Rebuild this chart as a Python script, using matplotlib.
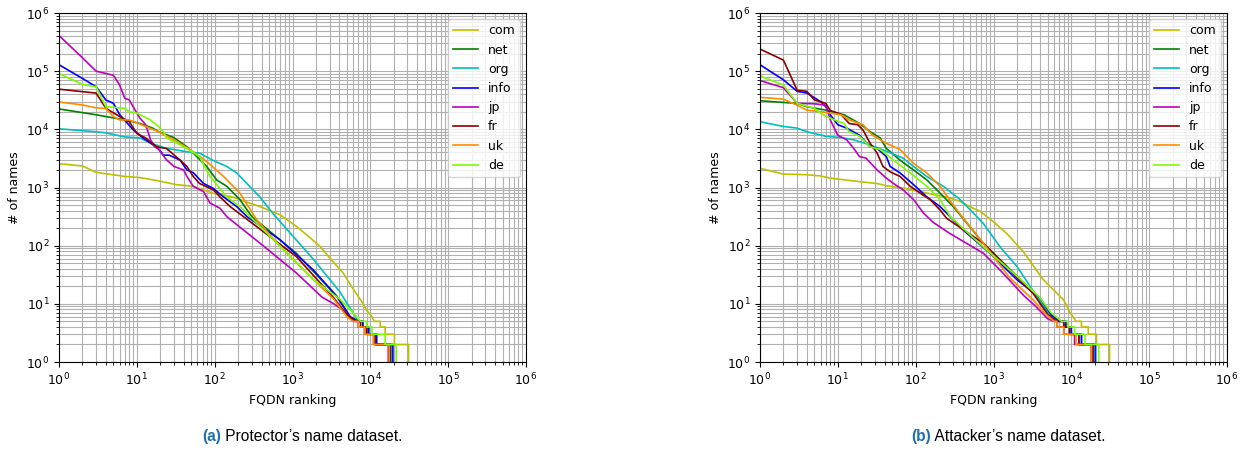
import matplotlib
matplotlib.use("Agg")
import matplotlib.pyplot as plt

tlds = ["com", "net", "org", "info", "jp", "fr", "uk", "de"]
colors = ["#bfbf00", "#008000", "#00bfbf", "#0000ff", "#bf00bf", "#8b0000", "#ff8c00", "#7cfc00"]

# counts where the tail goes down by one name at a time
tail_counts = [5, 4, 3, 2, 1]

# ---- (a) protector's name dataset: rank, # of names, tail step ranks
prot_com_r = [1, 2, 3, 7, 11, 18, 32, 53, 72, 94, 168, 260, 380, 692, 1120, 1600, 2240, 3200, 4470, 6000, 7400, 9000, 10500]
prot_com_n = [2570, 2340, 1820, 1550, 1480, 1320, 1120, 1050, 910, 800, 690, 560, 470, 340, 215, 145, 98, 56, 34, 18, 12, 7.7, 6]
prot_com_tail = [11200, 13400, 15500, 20400, 31000]

prot_net_r = [1, 3, 4, 7, 11, 16, 19, 30, 44, 59, 79, 106, 143, 211, 300, 1120, 3700, 5500]
prot_net_n = [2.24e4, 1.78e4, 1.66e4, 1.45e4, 1.26e4, 1.05e4, 9.1e3, 7.2e3, 5.0e3, 3.4e3, 2.3e3, 1.35e3, 1.05e3, 620, 316, 74, 13.5, 6]
prot_net_tail = [7000, 8000, 9500, 12000, 18500]

prot_org_r = [1, 3, 4, 7, 11, 15, 24, 33, 44, 64, 94, 143, 192, 260, 380, 567, 933, 1860, 4070, 6000]
prot_org_n = [1.02e4, 9.1e3, 8.7e3, 7.4e3, 7.1e3, 5.8e3, 4.7e3, 4.4e3, 4.1e3, 3.9e3, 2.95e3, 2.3e3, 1.78e3, 1.17e3, 690, 350, 165, 58, 16, 7]
prot_org_tail = [7000, 8000, 9500, 12000, 19000]

prot_info_r = [1, 2, 3, 4, 5, 6, 9, 12, 15, 19, 22, 26, 36, 44, 53, 72, 94, 130, 192, 260, 692, 1860, 3700, 5500]
prot_info_n = [1.29e5, 7.5e4, 5.4e4, 3.2e4, 2.8e4, 1.8e4, 9.8e3, 7.1e3, 5.8e3, 4.6e3, 3.6e3, 3.6e3, 2.95e3, 2.0e3, 1.8e3, 1.17e3, 980, 690, 470, 316, 126, 38, 13.5, 6]
prot_info_tail = [7000, 8000, 9500, 12000, 19500]

prot_jp_r = [1, 2, 3, 5, 6, 7, 8, 10, 11, 13, 15, 17, 19, 24, 30, 40, 44, 53, 72, 87, 117, 143, 427, 1120, 2400, 3400, 4500, 6000]
prot_jp_n = [4.1e5, 1.7e5, 1.0e5, 8.5e4, 5.8e4, 3.4e4, 3.2e4, 1.9e4, 1.55e4, 1.2e4, 6.6e3, 5.0e3, 4.6e3, 3.0e3, 2.3e3, 2.0e3, 1.55e3, 1.05e3, 850, 540, 440, 316, 98, 34, 13, 10, 7.7, 5]
prot_jp_tail = [6500, 7000, 8500, 11000, 17000]

prot_fr_r = [1, 3, 4, 6, 8, 10, 13, 18, 24, 36, 44, 53, 64, 96, 117, 158, 234, 1120, 3400, 5000]
prot_fr_n = [4.9e4, 4.2e4, 2.3e4, 1.66e4, 1.35e4, 8.5e3, 7.1e3, 5.0e3, 4.7e3, 2.95e3, 2.3e3, 1.55e3, 1.17e3, 910, 690, 470, 316, 65, 12.6, 6.5]
prot_fr_tail = [6500, 7500, 9000, 11500, 18000]

prot_uk_r = [1, 2, 3, 4, 5, 6, 8, 13, 19, 30, 48, 79, 130, 211, 349, 692, 1860, 3400, 5000]
prot_uk_n = [2.95e4, 2.63e4, 2.34e4, 2.29e4, 1.66e4, 1.45e4, 1.45e4, 1.12e4, 9.1e3, 6.6e3, 4.5e3, 2.8e3, 1.55e3, 800, 275, 98, 26, 12, 6]
prot_uk_tail = [6000, 7000, 8500, 11000, 17500]

prot_de_r = [1, 2, 3, 4, 7, 8, 10, 15, 19, 22, 24, 33, 44, 64, 87, 143, 211, 300, 692, 1860, 4070, 6000]
prot_de_n = [9.1e4, 5.9e4, 5.4e4, 2.45e4, 2.3e4, 2.0e4, 1.9e4, 1.45e4, 1.12e4, 9.1e3, 7.1e3, 5.75e3, 4.7e3, 3.4e3, 1.55e3, 690, 470, 295, 98, 26, 12, 7]
prot_de_tail = [7500, 9000, 10500, 15500, 21500]

# ---- (b) attacker's name dataset
att_com_r = [1, 2, 4, 6, 8, 19, 32, 42, 69, 114, 186, 250, 372, 552, 674, 1000, 1480, 2430, 4360, 7940, 9660, 10500]
att_com_n = [2.14e3, 1.7e3, 1.66e3, 1.58e3, 1.45e3, 1.26e3, 1.17e3, 1.07e3, 980, 850, 740, 690, 575, 437, 390, 257, 162, 78, 26, 11.7, 7, 6]
att_com_tail = [11500, 13500, 16500, 21000, 31000]

att_net_r = [1, 2, 3, 4, 7, 12, 19, 26, 35, 42, 63, 94, 139, 206, 304, 741, 2000, 3600, 5000]
att_net_n = [3.1e4, 2.9e4, 2.8e4, 2.45e4, 2.14e4, 1.78e4, 1.26e4, 9.1e3, 7.1e3, 4.7e3, 2.95e3, 2.0e3, 1.35e3, 800, 470, 110, 30, 13.5, 7]
att_net_tail = [7000, 8000, 9500, 12500, 19500]

att_org_r = [1, 2, 3, 4, 7, 11, 16, 26, 42, 69, 94, 139, 227, 372, 552, 741, 1216, 2000, 3600, 5500]
att_org_n = [1.35e4, 1.12e4, 1.05e4, 9.1e3, 7.6e3, 7.2e3, 6.6e3, 5.4e3, 4.2e3, 3.2e3, 2.3e3, 1.55e3, 1.05e3, 620, 363, 240, 95, 44, 13.5, 6]
att_org_tail = [7000, 8500, 10000, 13500, 20000]

att_info_r = [1, 2, 3, 4, 6, 7, 8, 10, 13, 19, 26, 32, 42, 47, 63, 94, 139, 206, 250, 400, 904, 2000, 3980, 5500]
att_info_n = [1.29e5, 7.1e4, 4.5e4, 4.2e4, 3.0e4, 2.45e4, 1.78e4, 1.2e4, 1.05e4, 7.9e3, 5.0e3, 4.7e3, 3.4e3, 2.3e3, 1.78e3, 1.12e3, 690, 470, 363, 190, 74, 26, 12.6, 6.5]
att_info_tail = [7000, 8500, 10000, 13500, 20500]

att_jp_r = [1, 2, 3, 5, 7, 8, 10, 13, 16, 19, 23, 32, 42, 52, 69, 94, 126, 169, 275, 741, 1216, 2430, 3500, 5000]
att_jp_n = [6.9e4, 5.2e4, 2.8e4, 2.75e4, 2.6e4, 1.45e4, 7.9e3, 6.6e3, 4.7e3, 3.4e3, 3.2e3, 2.0e3, 1.45e3, 1.17e3, 910, 620, 363, 250, 162, 74, 38, 14, 9, 5.5]
att_jp_tail = [6000, 6500, 8000, 11000, 18000]

att_fr_r = [1, 2, 3, 4, 5, 7, 8, 10, 11, 14, 18, 21, 26, 32, 38, 47, 63, 85, 114, 153, 206, 250, 741, 1620, 3240, 5000]
att_fr_n = [2.4e5, 1.55e5, 4.7e4, 4.5e4, 3.2e4, 2.8e4, 2.1e4, 1.9e4, 1.8e4, 1.26e4, 1.2e4, 9.8e3, 5.75e3, 3.9e3, 2.3e3, 1.86e3, 1.55e3, 1.05e3, 800, 620, 410, 295, 110, 38, 15, 6.5]
att_fr_tail = [6500, 8000, 9500, 12500, 19000]

att_uk_r = [1, 2, 3, 4, 7, 11, 14, 21, 28, 42, 63, 94, 139, 206, 304, 372, 741, 1620, 3240, 4500]
att_uk_n = [3.55e4, 3.3e4, 2.6e4, 2.14e4, 1.95e4, 1.78e4, 1.45e4, 1.2e4, 7.9e3, 5.75e3, 4.5e3, 2.6e3, 1.78e3, 1.05e3, 500, 350, 110, 28, 11.7, 7]
att_uk_tail = [6000, 6500, 8000, 11500, 18000]

att_de_r = [1, 2, 3, 5, 6, 8, 12, 14, 19, 26, 35, 52, 85, 139, 206, 278, 741, 2000, 3980, 5500]
att_de_n = [8.3e4, 5.75e4, 2.8e4, 2.3e4, 1.9e4, 1.55e4, 1.26e4, 9.1e3, 7.6e3, 5.0e3, 4.5e3, 2.95e3, 1.78e3, 1.05e3, 620, 316, 95, 30, 12.6, 7]
att_de_tail = [7500, 9000, 11000, 15000, 22500]

protector = [
    (prot_com_r, prot_com_n, prot_com_tail),
    (prot_net_r, prot_net_n, prot_net_tail),
    (prot_org_r, prot_org_n, prot_org_tail),
    (prot_info_r, prot_info_n, prot_info_tail),
    (prot_jp_r, prot_jp_n, prot_jp_tail),
    (prot_fr_r, prot_fr_n, prot_fr_tail),
    (prot_uk_r, prot_uk_n, prot_uk_tail),
    (prot_de_r, prot_de_n, prot_de_tail),
]
attacker = [
    (att_com_r, att_com_n, att_com_tail),
    (att_net_r, att_net_n, att_net_tail),
    (att_org_r, att_org_n, att_org_tail),
    (att_info_r, att_info_n, att_info_tail),
    (att_jp_r, att_jp_n, att_jp_tail),
    (att_fr_r, att_fr_n, att_fr_tail),
    (att_uk_r, att_uk_n, att_uk_tail),
    (att_de_r, att_de_n, att_de_tail),
]


def with_tail(ranks, counts, tail):
    # tail = [first rank with 5 names, last rank with 5, with 4, with 3, with 2]
    rr = list(ranks) + [tail[0]]
    nn = list(counts) + [tail_counts[0]]
    for i, c in enumerate(tail_counts[:-1]):
        rr += [tail[i + 1], tail[i + 1]]
        nn += [c, tail_counts[i + 1]]
    return rr, nn


plt.rcParams["font.size"] = 9

fig = plt.figure(figsize=(12.49, 4.49), dpi=100)
ax_a = fig.add_axes([59 / 1249, 1 - 362 / 449, 467 / 1249, 349 / 449])
ax_b = fig.add_axes([760 / 1249, 1 - 362 / 449, 467 / 1249, 349 / 449])

for ax, dataset in [(ax_a, protector), (ax_b, attacker)]:
    for tld, color, (r, n, tail) in zip(tlds, colors, dataset):
        rr, nn = with_tail(r, n, tail)
        ax.plot(rr, nn, color=color, lw=1.2, label=tld)
    ax.set_xscale("log")
    ax.set_yscale("log")
    ax.set_xlim(1, 1e6)
    ax.set_ylim(1, 1e6)
    ax.grid(True, which="both", color="#b0b0b0", lw=0.8)
    ax.set_xlabel("FQDN ranking")
    ax.set_ylabel("# of names")
    ax.legend(loc="upper right", fontsize=9)


def caption(xc, tag, text):
    kw = dict(fontsize=11.2, family="Liberation Sans", va="center")
    t1 = fig.text(0.5, 0.027, tag, fontweight="bold", color="#1f6fb0", **kw)
    t2 = fig.text(0.5, 0.027, " " + text, color="black", **kw)
    rend = fig.canvas.get_renderer()
    w1 = t1.get_window_extent(rend).width
    w2 = t2.get_window_extent(rend).width
    W = fig.bbox.width
    x0 = xc * W - (w1 + w2) / 2
    t1.set_x(x0 / W)
    t2.set_x((x0 + w1) / W)


caption(302 / 1249, "(a)", "Protector’s name dataset.")
caption(1008 / 1249, "(b)", "Attacker’s name dataset.")

fig.savefig("out.png", dpi=100)
